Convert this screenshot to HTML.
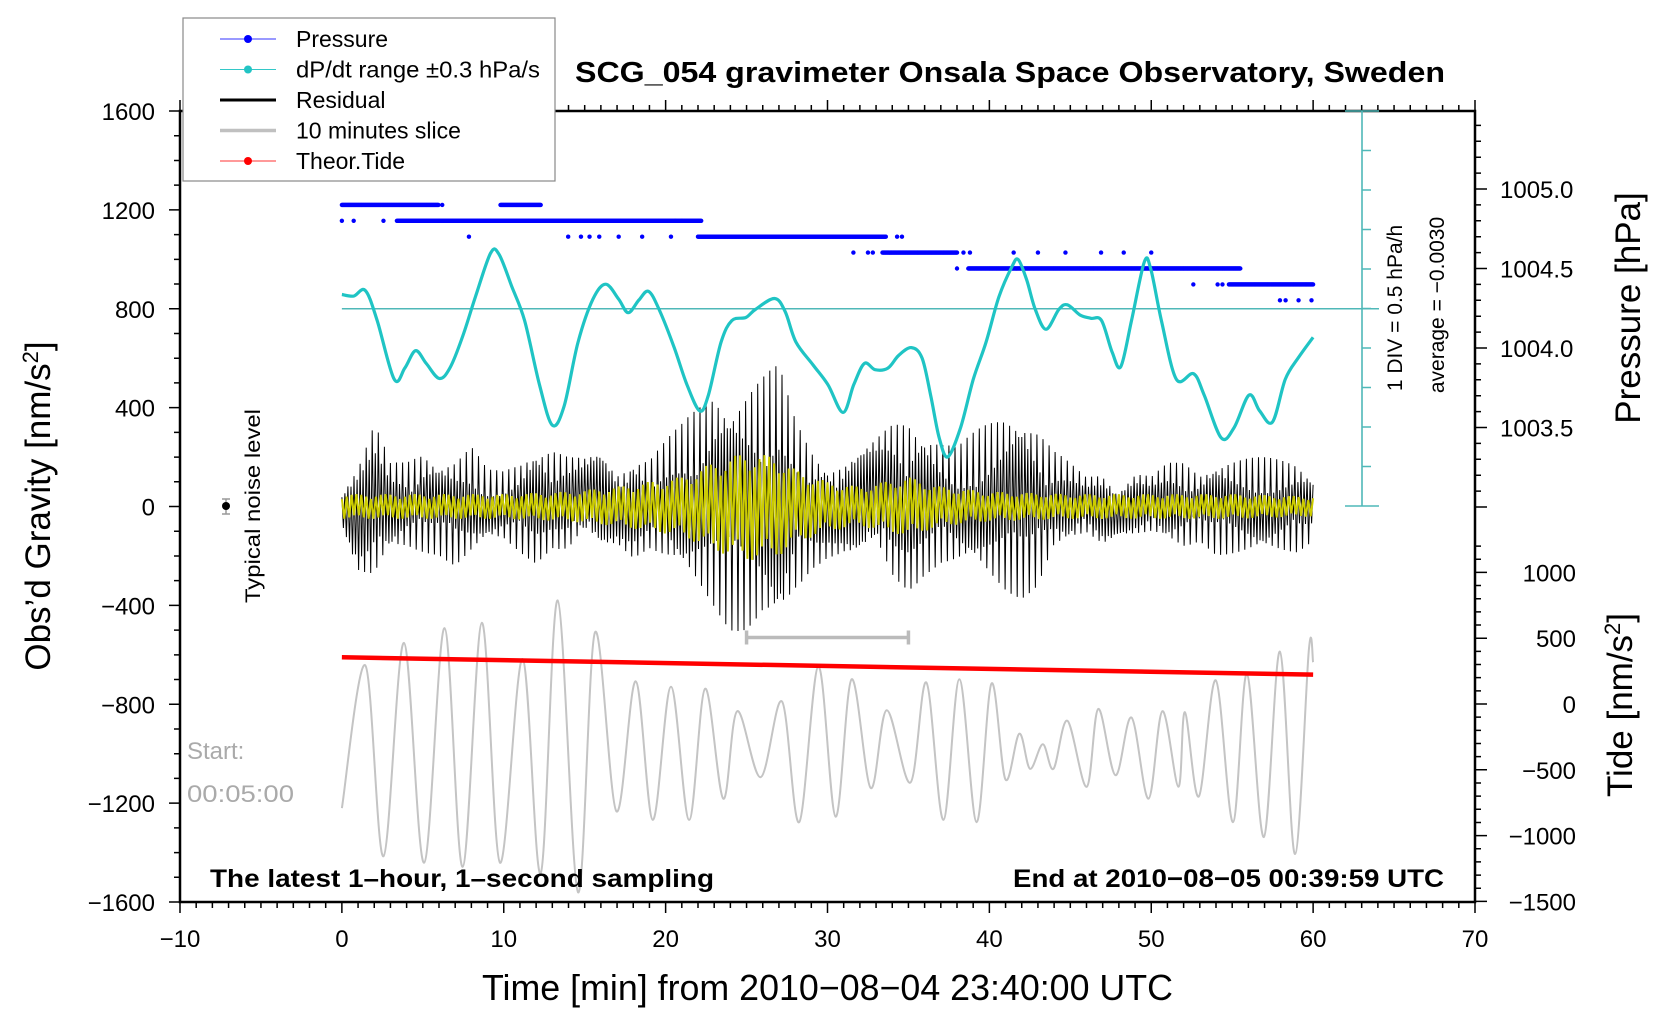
<!DOCTYPE html>
<html><head><meta charset="utf-8"><style>
html,body{margin:0;padding:0;background:#fff;}
svg{display:block;font-family:"Liberation Sans",sans-serif;}
</style></head><body>
<svg id="chart" width="1676" height="1020" viewBox="0 0 1676 1020" xmlns="http://www.w3.org/2000/svg">
<rect width="1676" height="1020" fill="#fff"/>
<g id="layer"></g>
</svg>
<script>
// ---- data ----
const dpTimes=[0,0.73,1.45,2.18,3.23,3.89,4.55,5.21,6.01,6.67,7.46,8.25,9.18,9.7,10.5,11.29,12.21,13.0,13.73,14.59,15.51,16.3,17.1,17.69,18.35,18.94,19.6,20.53,21.32,22.11,22.64,23.43,24.09,24.95,25.54,26.73,27.39,28.05,29.11,30.03,30.96,31.62,32.28,32.94,33.73,34.39,35.18,35.84,36.37,36.9,37.43,38.22,39.01,39.8,40.59,41.39,41.78,42.31,42.84,43.5,44.29,44.82,45.61,46.27,46.93,47.59,48.12,48.78,49.57,49.97,50.63,51.55,52.61,53.27,54.32,55.12,56.04,56.7,57.49,58.28,59.08,60];
const dpVals=[0.18,0.16,0.23,-0.15,-0.89,-0.75,-0.53,-0.69,-0.88,-0.75,-0.35,0.15,0.70,0.69,0.28,-0.15,-0.96,-1.47,-1.23,-0.42,0.12,0.31,0.12,-0.05,0.11,0.22,-0.01,-0.49,-0.96,-1.29,-1.09,-0.42,-0.15,-0.11,-0.01,0.13,-0.04,-0.42,-0.71,-0.96,-1.31,-0.96,-0.69,-0.77,-0.75,-0.59,-0.49,-0.62,-1.09,-1.63,-1.87,-1.50,-0.89,-0.42,0.15,0.53,0.62,0.36,-0.01,-0.26,-0.01,0.05,-0.08,-0.12,-0.15,-0.55,-0.73,-0.15,0.59,0.50,-0.15,-0.89,-0.82,-1.09,-1.63,-1.50,-1.09,-1.29,-1.43,-0.89,-0.62,-0.36];
const sliceTimes=[0,1.45,2.57,3.83,5.08,6.34,7.46,8.65,9.77,11.16,12.28,13.33,14.59,15.64,16.96,18.15,19.21,20.33,21.45,22.44,23.56,24.42,25.87,27.19,28.25,29.44,30.5,31.49,32.67,33.66,35.12,36.11,37.16,38.15,39.21,40.13,40.99,41.85,42.51,43.3,43.96,44.82,46.01,46.73,47.79,48.78,49.83,50.69,51.68,52.08,52.94,53.99,55.05,55.91,56.96,57.95,58.88,59.74,60];
const sliceVals=[-1220,-643,-1415,-552,-1441,-492,-1458,-470,-1441,-617,-1484,-380,-1561,-509,-1233,-707,-1268,-729,-1268,-737,-1182,-828,-1095,-789,-1277,-647,-1255,-699,-1139,-824,-1117,-712,-1268,-699,-1277,-716,-1104,-919,-1061,-962,-1061,-867,-1134,-819,-1087,-854,-1182,-828,-1134,-832,-1173,-703,-1277,-677,-1337,-587,-1406,-578,-630];
const tideTimes=[0,60];
const tideVals=[355,223];
const resTimes=[0,1,2,3,4,5,6,7,8,9,10,11,12,13,14,15,16,17,18,19,20,21,22,23,24,25,26,27,28,29,30,31,32,33,34,35,36,37,38,39,40,41,42,43,44,45,46,47,48,49,50,51,52,53,54,55,56,57,58,59,60];
const resUpper=[150,250,420,200,200,250,200,200,250,150,150,200,300,300,250,250,300,200,300,250,300,350,420,500,450,500,550,600,400,300,250,250,300,350,420,450,380,300,250,300,350,400,420,350,250,200,150,200,150,200,150,200,200,150,200,200,200,200,200,200,150];
const resLower=[-100,-350,-400,-250,-200,-200,-200,-250,-200,-150,-150,-200,-250,-200,-250,-200,-250,-200,-250,-200,-250,-300,-350,-420,-500,-520,-500,-580,-420,-300,-250,-250,-300,-300,-400,-400,-300,-250,-250,-250,-300,-350,-380,-350,-200,-200,-150,-200,-150,-150,-150,-200,-200,-150,-200,-200,-200,-200,-200,-200,-150];
const filtTimes=[0,5,10,14,17,19,21,23,25,27,28,30,32,35,37,40,45,50,55,60];
const filtAmp=[50,50,50,60,80,100,120,180,220,200,150,100,80,120,80,60,50,50,50,40];
const pressLevels=[1004.9,1004.9,1004.8,1004.7,1004.6,1004.5,1004.4];
const pressStart=[0,9.8,3.4,22.0,33.4,38.7,54.8];
const pressEnd=[6.0,12.3,22.2,33.6,38.0,55.5,60];
const dotLevels=[1004.9,1004.8,1004.8,1004.8,1004.8,1004.8,1004.7,1004.7,1004.7,1004.7,1004.7,1004.7,1004.7,1004.7,1004.7,1004.7,1004.6,1004.6,1004.6,1004.6,1004.6,1004.6,1004.6,1004.6,1004.6,1004.6,1004.6,1004.5,1004.4,1004.4,1004.4,1004.3,1004.3,1004.3,1004.3];
const dotTimes=[6.2,0,0.73,2.57,20.6,21.0,7.85,13.98,14.77,15.3,15.9,17.1,18.55,20.33,34.3,34.6,31.6,32.5,32.8,38.4,38.8,41.5,43.0,44.7,46.9,48.3,50.0,38.0,52.6,54.1,54.4,57.95,58.3,59.1,59.9];
const xTicks=[-10,0,10,20,30,40,50,60,70];
const yTicks=[1600,1200,800,400,0,-400,-800,-1200,-1600];
const pTicks=[1005.0,1004.5,1004.0,1003.5];
const tTicks=[1000,500,0,-500,-1000,-1500];

// ---- axes ----
const L=180,R=1475,T=111,B=902;
const xPx=t=>L+(t+10)/80*(R-L);
const yPx=v=>T+(1600-v)/3200*(B-T);
const yP=p=>189+(1005-p)*159;
const yD=d=>308.75-d*79.2;
const yT=v=>704-v*0.1316;
const NS='http://www.w3.org/2000/svg';
const layer=document.getElementById('layer');
function el(tag,attrs,parent){const e=document.createElementNS(NS,tag);for(const k in attrs)e.setAttribute(k,attrs[k]);(parent||layer).appendChild(e);return e;}
function txt(s,attrs,parent){const e=el('text',attrs,parent);e.textContent=s;return e;}
function interp(ts,vs,t){if(t<=ts[0])return vs[0];for(let i=1;i<ts.length;i++){if(t<=ts[i]){const f=(t-ts[i-1])/(ts[i]-ts[i-1]);return vs[i-1]+f*(vs[i]-vs[i-1]);}}return vs[vs.length-1];}
function smoothPath(pts){let d='M'+pts[0][0].toFixed(1)+','+pts[0][1].toFixed(1);for(let i=0;i<pts.length-1;i++){const p0=pts[Math.max(0,i-1)],p1=pts[i],p2=pts[i+1],p3=pts[Math.min(pts.length-1,i+2)];const c1=[p1[0]+(p2[0]-p0[0])/6,p1[1]+(p2[1]-p0[1])/6],c2=[p2[0]-(p3[0]-p1[0])/6,p2[1]-(p3[1]-p1[1])/6];d+='C'+c1[0].toFixed(1)+','+c1[1].toFixed(1)+' '+c2[0].toFixed(1)+','+c2[1].toFixed(1)+' '+p2[0].toFixed(1)+','+p2[1].toFixed(1);}return d;}

// frame
const frame=el('rect',{x:L,y:T,width:R-L,height:B-T,fill:'none',stroke:'#000','stroke-width':2.5});



let tk='';
for(let t=-10;t<=70;t++){const x=xPx(t);const len=(t%10===0)?11:6;tk+=`M${x},${B}v${len}M${x},${T}v${-len}`;}
for(let v=-1600;v<=1600;v+=100){const y=yPx(v);const len=(v%400===0)?11:6;tk+=`M${L},${y}h${-len}`;}
for(let p=1005.5;p>=1002.9;p-=0.1){const y=yP(p);if(y<T)continue;const maj=Math.abs((p*10)%5)<0.01||Math.abs((p*10)%5-5)<0.01;tk+=`M${R},${y}h${maj?12:6}`;}
for(let v=-1500;v<=1200;v+=100){const y=yT(v);tk+=`M${R},${y}h${v%500===0?12:6}`;}
const ticks=el('path',{d:tk,stroke:'#000','stroke-width':1.5,fill:'none'});



xTicks.forEach(t=>{const e=txt(String(t).replace('-','\u2212'),{x:xPx(t),y:947,'font-size':24,'text-anchor':'middle'});

});
yTicks.forEach(v=>{const e=txt(String(v).replace('-','\u2212'),{x:155,y:yPx(v)+9,'font-size':24,'text-anchor':'end'});

});
pTicks.forEach(p=>{const e=txt(p.toFixed(1),{x:1500,y:yP(p)+9,'font-size':24});

});
tTicks.forEach(v=>{const e=txt(String(v).replace('-','\u2212'),{x:1576,y:yT(v)+9,'font-size':24,'text-anchor':'end'});

});

// dP/dt scale bar
let sb=`M1362,${T}V506M1345,${T}h34M1345,506h34`;
for(let k=1;k<10;k++){const y=T+k*39.5;sb+=`M1362,${y}h9`;}
const scale=el('path',{d:sb,stroke:'#4fb8b8','stroke-width':1.6,fill:'none'});


const zl=el('line',{x1:xPx(0),x2:1379,y1:yD(0),y2:yD(0),stroke:'#4fb8b8','stroke-width':1.6});



// pressure dots
const pg=el('g',{fill:'#0000ff'});


pressLevels.forEach((p,i)=>{for(let t=pressStart[i];t<=pressEnd[i];t+=0.04){el('circle',{cx:xPx(t).toFixed(1),cy:yP(p),r:2.2},pg);}});
dotLevels.forEach((p,i)=>{el('circle',{cx:xPx(dotTimes[i]),cy:yP(p),r:2.2},pg);});

// residual (black)
let rp='';const n=640;
for(let i=0;i<=n;i++){const t=i*60/n;const sgn=i%2===0?1:-1;const f=0.25+0.75*Math.pow(Math.abs(Math.sin(i*2.39)*Math.cos(i*0.77)),0.7);const v=sgn>0?interp(resTimes,resUpper,t)*f:interp(resTimes,resLower,t)*f;rp+=(i?'L':'M')+xPx(t).toFixed(1)+','+yPx(v).toFixed(1);}
const res=el('path',{d:rp,stroke:'#000','stroke-width':1,fill:'none'});



// filtered (yellow)
let fp='';const m=400;
for(let i=0;i<=m;i++){const t=i*60/m;const sgn=i%2===0?1:-1;const f=0.6+0.4*Math.abs(Math.sin(i*1.31));const v=sgn*interp(filtTimes,filtAmp,t)*f;fp+=(i?'L':'M')+xPx(t).toFixed(1)+','+yPx(v).toFixed(1);}
const filt=el('path',{d:fp,stroke:'#cccc00','stroke-width':2,fill:'none'});



// dP/dt curve
const dp=el('path',{d:smoothPath(dpTimes.map((t,i)=>[xPx(t),yD(dpVals[i])])),stroke:'#1fc4c4','stroke-width':3.2,fill:'none'});



// slice bar
const sbar=el('path',{d:`M${xPx(25)},${yPx(-530)}H${xPx(35)}M${xPx(25)},${yPx(-530)-7}v14M${xPx(35)},${yPx(-530)-7}v14`,stroke:'#bbb','stroke-width':3.5,fill:'none'});



// slice (gray)
const sl=el('path',{d:smoothPath(sliceTimes.map((t,i)=>[xPx(t),yPx(sliceVals[i])])),stroke:'#c4c4c4','stroke-width':2,fill:'none'});



// tide
const td=el('line',{x1:xPx(tideTimes[0]),y1:yT(tideVals[0]),x2:xPx(tideTimes[1]),y2:yT(tideVals[1]),stroke:'#ff0000','stroke-width':4.5});



// noise level
const nb=el('path',{d:'M226,499v15M222,499h8M222,514h8',stroke:'#999','stroke-width':1.5,fill:'none'});


const nd=el('circle',{cx:226,cy:506,r:4,fill:'#000'});


const nt=txt('Typical noise level',{x:0,y:0,'font-size':21,'text-anchor':'middle',transform:'translate(260,506) rotate(-90)',textLength:194,lengthAdjust:'spacingAndGlyphs'});



function T2(s,attrs,name){const e=txt(s,attrs);return e;}
T2('SCG_054 gravimeter Onsala Space Observatory, Sweden',{x:575,y:82,'font-size':29,'font-weight':'bold',textLength:870,lengthAdjust:'spacingAndGlyphs'},'chart-title');
T2('The latest 1\u2013hour, 1\u2013second sampling',{x:210,y:887,'font-size':25,'font-weight':'bold',textLength:504,lengthAdjust:'spacingAndGlyphs'},'sampling-note');
T2('End at 2010\u221208\u221205 00:39:59 UTC',{x:1013,y:887,'font-size':25,'font-weight':'bold',textLength:431,lengthAdjust:'spacingAndGlyphs'},'end-time-note');
T2('Start:',{x:187,y:759,'font-size':24,fill:'#aaa'},'start-label');
T2('00:05:00',{x:187,y:802,'font-size':24,fill:'#aaa',textLength:107,lengthAdjust:'spacingAndGlyphs'},'start-time');
T2('Time [min] from 2010\u221208\u221204 23:40:00 UTC',{x:482,y:1000,'font-size':36,textLength:691,lengthAdjust:'spacingAndGlyphs'},'x-axis-title');
const yt=txt('',{x:0,y:0,'font-size':35,'text-anchor':'middle',transform:'translate(50,506) rotate(-90)'});
yt.innerHTML='Obs\u2019d Gravity [nm/s<tspan dy="-12" font-size="22">2</tspan><tspan dy="12">]</tspan>';


T2('Pressure [hPa]',{x:0,y:0,'font-size':35,'text-anchor':'middle',transform:'translate(1640,308) rotate(-90)'},'pressure-axis-title');
const tt=txt('',{x:0,y:0,'font-size':35,'text-anchor':'middle',transform:'translate(1632,705) rotate(-90)'});
tt.innerHTML='Tide [nm/s<tspan dy="-12" font-size="22">2</tspan><tspan dy="12">]</tspan>';


T2('1 DIV = 0.5 hPa/h',{x:0,y:0,'font-size':21,'text-anchor':'middle',transform:'translate(1402,308) rotate(-90)'},'scale-division-label');
T2('average = \u22120.0030',{x:0,y:0,'font-size':21,'text-anchor':'middle',transform:'translate(1444,305) rotate(-90)'},'average-label');

// legend
const lg=el('g',{});


el('rect',{x:183,y:18,width:372,height:163,fill:'#fff',stroke:'#888','stroke-width':1.2},lg);
const items=[['Pressure','#3333ff',1,true],['dP/dt range \u00b10.3 hPa/s','#33c8c8',1,true],['Residual','#000',3,false],['10 minutes slice','#c0c0c0',3.5,false],['Theor.Tide','#ff3333',1,true]];
items.forEach((it,i)=>{const y=39+i*30.5;
const g=el('g',{},lg);


el('line',{x1:220,x2:276,y1:y,y2:y,stroke:it[1],'stroke-width':it[2]},g);
if(it[3])el('circle',{cx:248,cy:y,r:4,fill:it[1]==='#3333ff'?'#0000ff':it[1]==='#ff3333'?'#ff0000':'#22c4c4'},g);
const lt=txt(it[0],{x:296,y:y+8,'font-size':23},g);
if(i===1){lt.setAttribute('textLength',244);lt.setAttribute('lengthAdjust','spacingAndGlyphs');}});
</script>
</body></html>
